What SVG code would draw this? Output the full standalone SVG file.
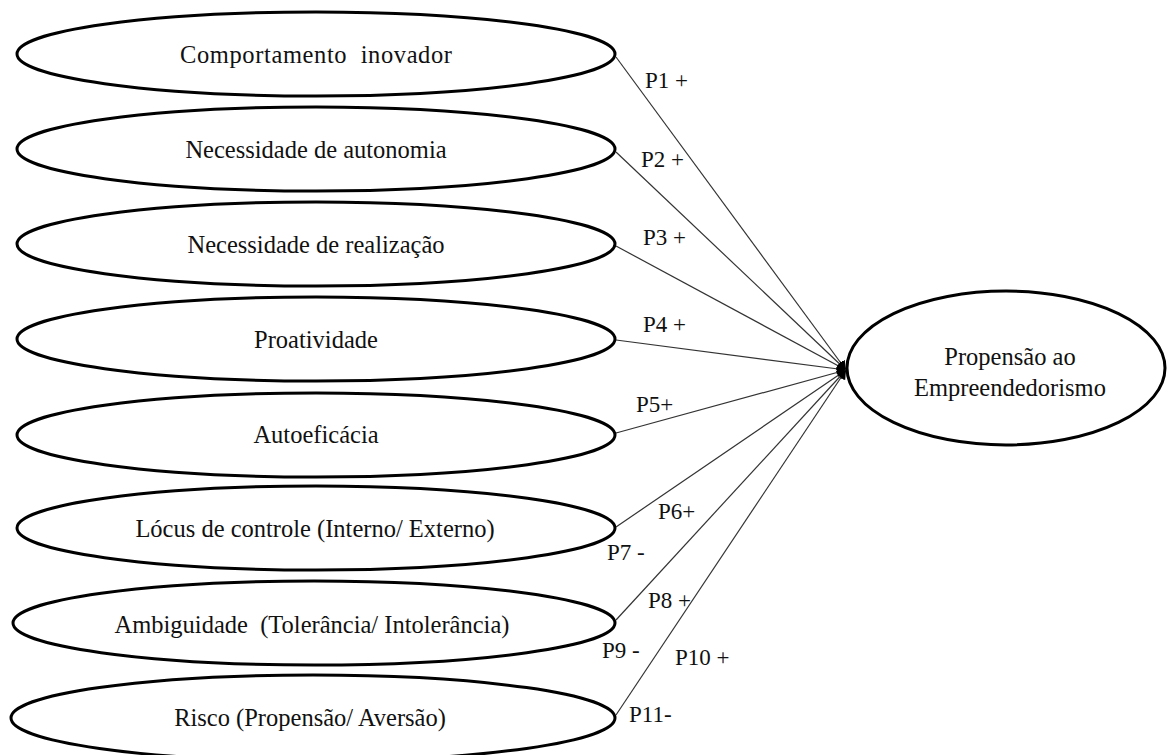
<svg xmlns="http://www.w3.org/2000/svg" width="1173" height="755" viewBox="0 0 1173 755">
<style>
.node ellipse{fill:#fff;stroke:#000;stroke-width:3}
.node text{font-family:"Liberation Serif","DejaVu Serif","Times New Roman",Times,serif;font-size:24.5px;fill:#111;text-anchor:middle}
.conn line{stroke:#333;stroke-width:1.2}
.lbl{font-family:"Liberation Serif","DejaVu Serif","Times New Roman",serif;font-size:23px;fill:#111}
</style>
<defs>
<marker id="ah" markerUnits="userSpaceOnUse" markerWidth="10" markerHeight="12" refX="9" refY="6" orient="auto">
<path d="M0,1 L9,6 L0,11 Z" fill="#000"/>
</marker>
</defs>
<rect width="1173" height="755" fill="#fff"/>
<g id="connectors" class="conn">
<line x1="616" y1="57" x2="846" y2="370" marker-end="url(#ah)"/>
<line x1="616" y1="152" x2="846" y2="370" marker-end="url(#ah)"/>
<line x1="616" y1="246" x2="846" y2="370" marker-end="url(#ah)"/>
<line x1="616" y1="340" x2="846" y2="370" marker-end="url(#ah)"/>
<line x1="616" y1="433" x2="846" y2="370" marker-end="url(#ah)"/>
<line x1="616" y1="527" x2="846" y2="370" marker-end="url(#ah)"/>
<line x1="616" y1="620" x2="846" y2="370" marker-end="url(#ah)"/>
<line x1="616" y1="715" x2="846" y2="370" marker-end="url(#ah)"/>
</g>
<g id="n1" class="node"><ellipse cx="316" cy="54" rx="299" ry="42"/><text x="316" y="63" xml:space="preserve" textLength="272" lengthAdjust="spacing">Comportamento  inovador</text></g>
<g id="n2" class="node"><ellipse cx="316" cy="149" rx="299" ry="42"/><text x="316" y="158">Necessidade de autonomia</text></g>
<g id="n3" class="node"><ellipse cx="316" cy="244" rx="299" ry="42"/><text x="316" y="253">Necessidade de realização</text></g>
<g id="n4" class="node"><ellipse cx="316" cy="339" rx="299" ry="42"/><text x="316" y="348">Proatividade</text></g>
<g id="n5" class="node"><ellipse cx="316" cy="435" rx="299" ry="42"/><text x="316" y="443">Autoeficácia</text></g>
<g id="n6" class="node"><ellipse cx="316" cy="528" rx="299" ry="42"/><text x="315" y="537">Lócus de controle (Interno/ Externo)</text></g>
<g id="n7" class="node"><ellipse cx="314" cy="623" rx="301" ry="42"/><text x="312" y="633" xml:space="preserve">Ambiguidade  (Tolerância/ Intolerância)</text></g>
<g id="n8" class="node"><ellipse cx="313" cy="718" rx="302" ry="43"/><text x="310" y="726">Risco (Propensão/ Aversão)</text></g>
<g id="target" class="node"><ellipse cx="1006" cy="368" rx="159" ry="77"/><text x="1010" y="365">Propensão ao</text><text x="1010" y="396">Empreendedorismo</text></g>
<g id="labels" class="lbl">
<text x="645" y="88">P1 +</text>
<text x="641" y="167">P2 +</text>
<text x="643" y="245">P3 +</text>
<text x="643" y="332">P4 +</text>
<text x="636" y="412">P5+</text>
<text x="658" y="519">P6+</text>
<text x="607" y="560">P7 -</text>
<text x="648" y="608">P8 +</text>
<text x="602" y="658">P9 -</text>
<text x="675" y="665">P10 +</text>
<text x="629" y="722">P11-</text>
</g>
</svg>
